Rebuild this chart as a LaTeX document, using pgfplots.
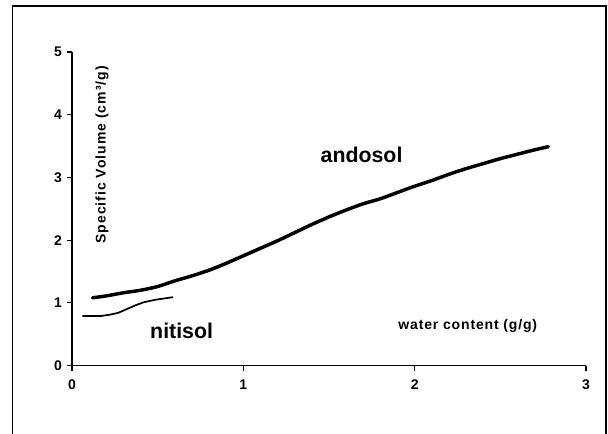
\documentclass[border=0pt]{standalone}
\usepackage{fontspec}
\setmainfont{Liberation Sans}
\usepackage{pgfplots}
\pgfplotsset{compat=1.18}
\begin{document}
\begin{tikzpicture}
% 1 px of the reference = 0.75pt; (0,0) is the data origin
\begin{scope}[x=0.75pt,y=0.75pt]
\useasboundingbox (-72,-67.5) rectangle (536,365.5);
\draw[line width=1pt] (-59.5,-70) -- (-59.5,359.5) -- (534,359.5) -- (534,-70);
\end{scope}
\begin{axis}[
  at={(0,0)}, anchor=south west,
  scale only axis,
  width=385.5pt, height=235.1pt,
  xmin=0, xmax=3, ymin=0, ymax=5,
  axis lines*=left,
  axis line style={line width=0.9pt,-},
  xtick={0,1,2,3}, ytick={0,1,2,3,4,5},
  tick align=outside,
  major tick length=4pt,
  tick style={black,line width=0.9pt},
  ticklabel style={font=\fontsize{10.5}{12}\selectfont\bfseries},
  xticklabel style={yshift=-3pt},
  /pgf/number format/assume math mode=true,
  clip=false,
]
\addplot[black, line width=2.6pt, line cap=round, smooth] coordinates {
  (0.12,1.08) (0.2,1.11) (0.3,1.16) (0.4,1.20) (0.5,1.26) (0.6,1.35)
  (0.7,1.43) (0.8,1.52) (0.9,1.63) (1.0,1.75) (1.1,1.87) (1.2,1.99)
  (1.3,2.12) (1.4,2.25) (1.5,2.37) (1.6,2.48) (1.7,2.58) (1.8,2.66)
  (1.9,2.76) (2.0,2.86) (2.1,2.95) (2.2,3.05) (2.3,3.14) (2.4,3.22)
  (2.5,3.30) (2.6,3.37) (2.7,3.44) (2.78,3.49)
};
\addplot[black, line width=1.3pt] coordinates {
  (0.06,0.79) (0.17,0.79) (0.22,0.81) (0.27,0.84) (0.32,0.90)
  (0.37,0.96) (0.42,1.01) (0.49,1.05) (0.59,1.09)
};
\node[font=\fontsize{16}{18}\selectfont\bfseries] at (axis cs:1.69,3.36) {andosol};
\node[font=\fontsize{16}{18}\selectfont\bfseries] at (axis cs:0.64,0.55) {nitisol};
\node[font=\fontsize{10.5}{12}\selectfont\bfseries\addfontfeatures{LetterSpace=6}] at (axis cs:2.31,0.63) {water content (g/g)};
\node[rotate=90, font=\fontsize{10.5}{12}\selectfont\bfseries\addfontfeatures{LetterSpace=7}] at (axis cs:0.175,3.36) {Specific Volume (cm³/g)};
\end{axis}
\end{tikzpicture}
\end{document}
